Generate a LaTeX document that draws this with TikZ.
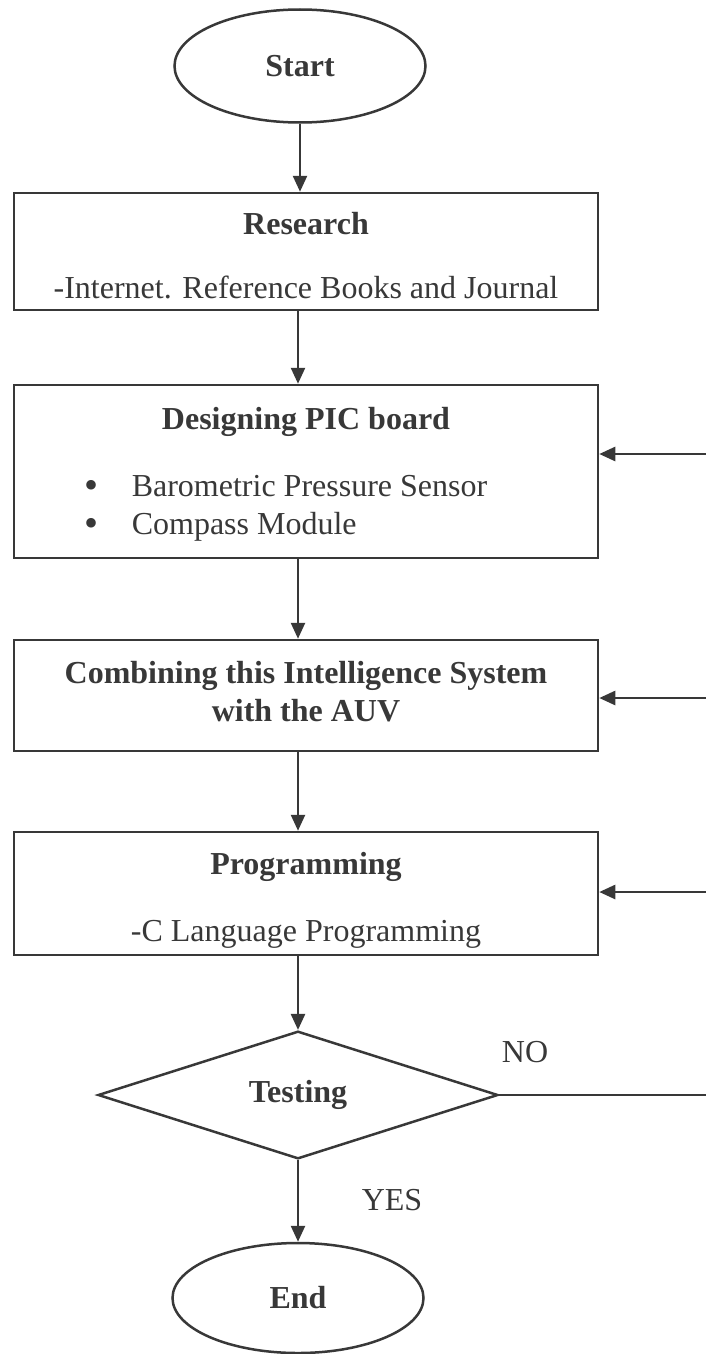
\documentclass[tikz,border=0pt]{standalone}
\usepackage{fontspec}
\setmainfont{Liberation Serif}
\usetikzlibrary{shapes.geometric,arrows.meta}

\newcommand{\bigbullet}{\raisebox{-2pt}{\scalebox{1.25}{\textbullet}}}

\begin{document}
\begin{tikzpicture}[
    x=1pt, y=-1pt,
    line width=2.5pt,
    color=black!78,
    font=\fontsize{32}{38}\selectfont,
    term/.style={
      ellipse,
      draw,
      minimum width=251pt,
      minimum height=113pt,
      inner sep=0pt,
      font=\fontsize{32}{38}\selectfont\bfseries
    },
    procbox/.style={
      rectangle,
      draw,
      minimum width=584pt,
      inner sep=0pt,
      align=center
    },
    decision/.style={
      diamond,
      draw,
      minimum width=400pt,
      minimum height=120pt,
      inner sep=0pt,
      font=\fontsize{32}{38}\selectfont\bfseries
    },
    flow/.style={-{Triangle[length=16pt, width=14pt]}}
  ]
  \useasboundingbox (0, 0) rectangle (706, 1354);

  \node[term] (start) at (300, 66) {Start};

  \node[procbox, minimum height=117pt] (research) at (306, 251.5)
    {\rule{0pt}{30pt}\textbf{Research}\\[26pt]-Internet. Reference Books and Journal};

  \node[procbox, minimum height=173pt] (design) at (306, 471.5)
    {\rule{0pt}{32pt}\textbf{Designing PIC board}\\[29pt]
     \begin{tabular}[t]{@{}p{47pt}@{}l@{}}
       \bigbullet & Barometric Pressure Sensor\\
       \bigbullet & Compass Module
     \end{tabular}\hspace*{40pt}};

  \node[
    procbox,
    minimum height=111pt,
    font=\fontsize{32}{38}\selectfont\bfseries
  ] (combine) at (306, 695.5)
    {Combining this Intelligence System\\with the AUV\rule[-8pt]{0pt}{8pt}};

  \node[procbox, minimum height=123pt] (program) at (306, 893.5)
    {\rule{0pt}{36pt}\textbf{Programming}\\[29pt]-C Language Programming};

  \node[decision] (test) at (298, 1095) {Testing};

  \node[term, minimum height=110pt] (finish) at (298, 1298) {End};

  \node (no) at (525, 1052) {NO};
  \node (yes) at (392, 1200) {YES};

  \coordinate (fbdesign) at (706, 454);
  \coordinate (fbcombine) at (706, 698);
  \coordinate (fbprogram) at (706, 892);
  \coordinate (noend) at (706, 1095);

  \draw[flow] (start.south) -- (start.south |- research.north);
  \draw[flow] (research.south -| test.north) -- (design.north -| test.north);
  \draw[flow] (design.south -| test.north) -- (combine.north -| test.north);
  \draw[flow] (combine.south -| test.north) -- (program.north -| test.north);
  \draw[flow] (program.south -| test.north) -- (test.north);
  \draw[flow] (test.south) -- (finish.north);

  \draw[flow] (fbdesign) -- (fbdesign -| design.east);
  \draw[flow] (fbcombine) -- (fbcombine -| combine.east);
  \draw[flow] (fbprogram) -- (fbprogram -| program.east);
  \draw (test.east) -- (noend);
\end{tikzpicture}
\end{document}
